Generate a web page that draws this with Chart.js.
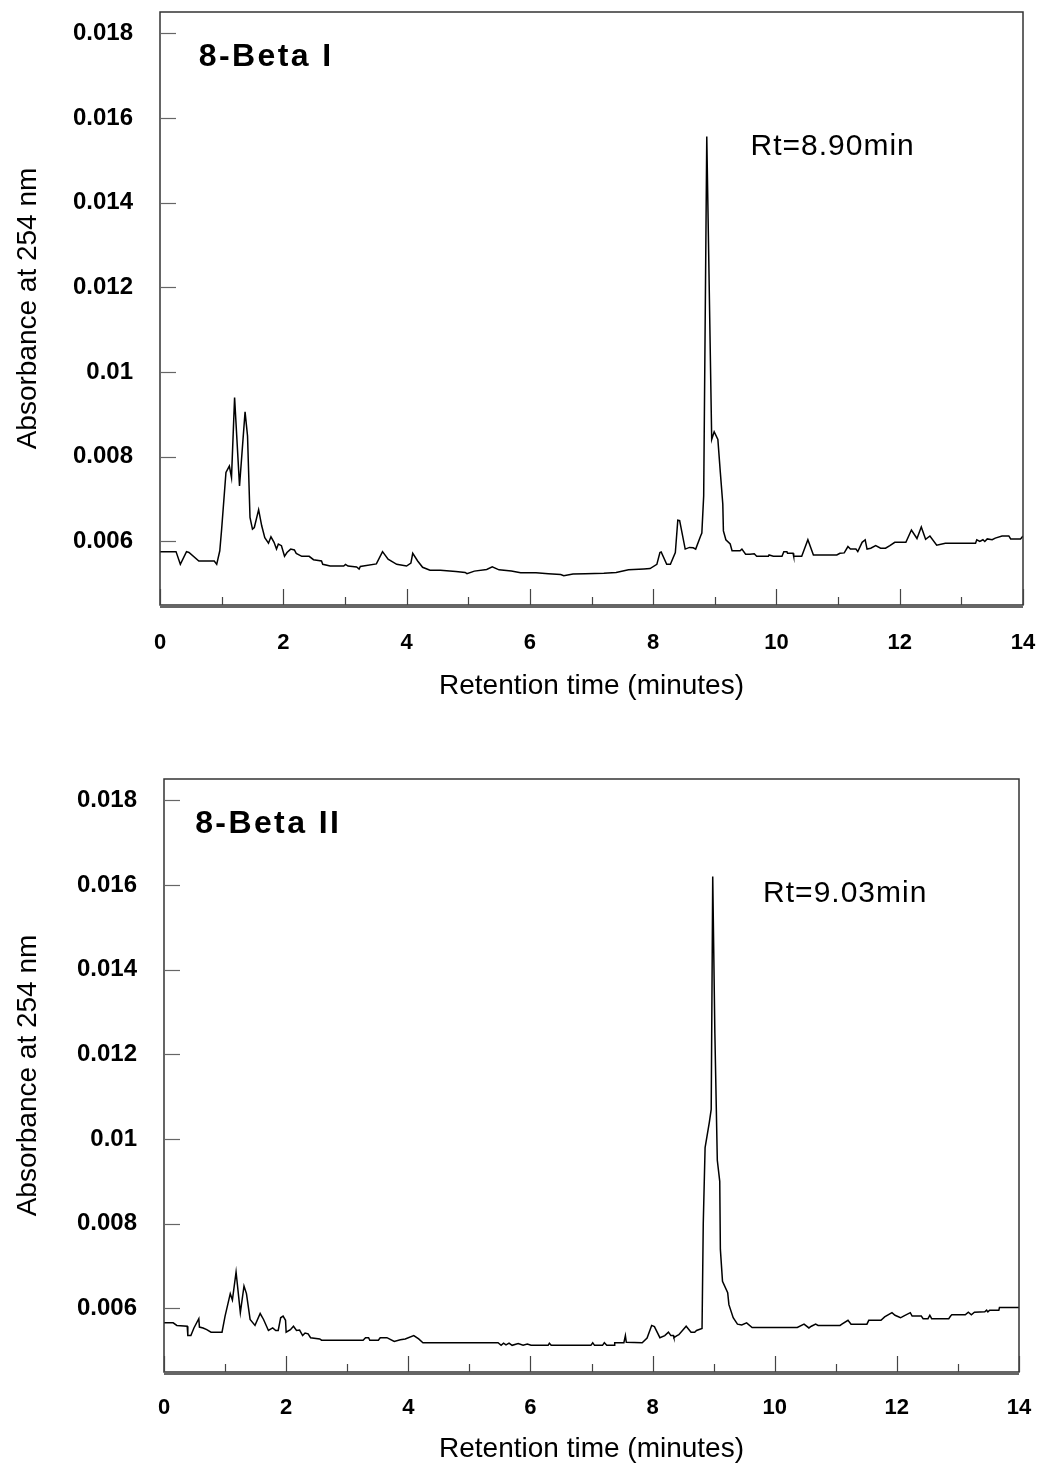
<!DOCTYPE html>
<html>
<head>
<meta charset="utf-8">
<script src="https://cdn.jsdelivr.net/npm/chart.js@4/dist/chart.umd.min.js"></script>
<style>
  body { margin: 0; background: #fff; }
  #wrap { position: relative; width: 1046px; height: 1466px; }
  canvas { position: absolute; left: 0; }
</style>
</head>
<body>
<div id="wrap">
  <canvas id="chart1" width="1046" height="732" style="top:0"></canvas>
  <canvas id="chart2" width="1046" height="734" style="top:732px"></canvas>
</div>
<script>
// retention time (min) and absorbance at 254 nm
var beta1Time = [0, 0.26, 0.33, 0.43, 0.47, 0.63, 0.88, 0.92, 0.97, 1.0, 1.07, 1.125, 1.16, 1.21, 1.29, 1.38, 1.42, 1.46, 1.5, 1.53,
    1.6, 1.65, 1.7, 1.76, 1.8, 1.85, 1.89, 1.92, 1.97, 2.02, 2.06, 2.12, 2.18, 2.21, 2.3, 2.42, 2.49, 2.62, 2.64, 2.76,
    2.98, 3.01, 3.05, 3.19, 3.23, 3.25, 3.51, 3.61, 3.7, 3.84, 4.0, 4.07, 4.1, 4.18, 4.26, 4.38, 4.55, 4.8, 4.95, 4.98,
    5.1, 5.3, 5.39, 5.5, 5.7, 5.85, 6.1, 6.3, 6.5, 6.55, 6.7, 6.9, 7.2, 7.4, 7.6, 7.85, 7.95, 8.06, 8.11, 8.13,
    8.22, 8.28, 8.36, 8.4, 8.43, 8.52, 8.59, 8.65, 8.69, 8.77, 8.79, 8.82, 8.87, 8.95, 8.99, 9.05, 9.09, 9.13, 9.14, 9.18,
    9.25, 9.28, 9.41, 9.44, 9.5, 9.57, 9.64, 9.68, 9.87, 9.88, 9.95, 10.09, 10.12, 10.17, 10.18, 10.27, 10.28, 10.41, 10.43, 10.51,
    10.6, 10.98, 11.03, 11.1, 11.16, 11.2, 11.29, 11.32, 11.39, 11.44, 11.47, 11.53, 11.61, 11.69, 11.77, 11.84, 11.92, 12.1, 12.19, 12.28,
    12.35, 12.42, 12.49, 12.6, 12.74, 13.23, 13.25, 13.3, 13.35, 13.38, 13.42, 13.5, 13.55, 13.66, 13.77, 13.8, 13.96, 14.0]
var beta1Abs = [0.00576, 0.00576, 0.00546, 0.00576, 0.00574, 0.00554, 0.00554, 0.00546, 0.00578, 0.00629, 0.00763, 0.00778, 0.00751, 0.0094, 0.00731, 0.00906, 0.00849, 0.00657, 0.00629, 0.00633,
    0.00675, 0.00637, 0.00609, 0.00596, 0.00611, 0.00598, 0.00582, 0.00594, 0.0059, 0.00565, 0.00574, 0.00582, 0.0058, 0.00572, 0.00565, 0.00565, 0.00557, 0.00554, 0.00546, 0.00542,
    0.00542, 0.00546, 0.00542, 0.0054, 0.00535, 0.00541, 0.00547, 0.00576, 0.00558, 0.00546, 0.00542, 0.00549, 0.00572, 0.00554, 0.00539, 0.00532, 0.00532, 0.00529, 0.00527, 0.00524,
    0.0053, 0.00534, 0.0054, 0.00533, 0.0053, 0.00526, 0.00526, 0.00524, 0.00522, 0.00519, 0.00523, 0.00524, 0.00525, 0.00527, 0.00533, 0.00535, 0.00536, 0.00546, 0.00574, 0.00575,
    0.00546, 0.00546, 0.00574, 0.0065, 0.00649, 0.00582, 0.00586, 0.00585, 0.00582, 0.00613, 0.0062, 0.00708, 0.01556, 0.00841, 0.00859, 0.00841, 0.00763, 0.00688, 0.00625, 0.00604,
    0.00594, 0.00578, 0.00578, 0.00582, 0.0057, 0.0057, 0.00571, 0.00565, 0.00565, 0.00568, 0.00565, 0.00565, 0.00576, 0.00576, 0.00572, 0.00572, 0.00565, 0.00565, 0.00573, 0.00604,
    0.00568, 0.00568, 0.00572, 0.00573, 0.00588, 0.00582, 0.00582, 0.00576, 0.00598, 0.00604, 0.00582, 0.00584, 0.0059, 0.00584, 0.00584, 0.0059, 0.00598, 0.00598, 0.00627, 0.00607,
    0.00634, 0.00605, 0.00613, 0.00591, 0.00596, 0.00596, 0.00604, 0.006, 0.00604, 0.006, 0.00606, 0.00604, 0.00608, 0.00613, 0.00613, 0.00606, 0.00606, 0.00613]

var beta2Time = [0, 0.15, 0.21, 0.38, 0.39, 0.44, 0.49, 0.57, 0.58, 0.64, 0.7, 0.77, 0.95, 1.0, 1.085, 1.12, 1.18, 1.25, 1.31, 1.35,
    1.41, 1.49, 1.575, 1.63, 1.71, 1.78, 1.83, 1.87, 1.91, 1.95, 1.99, 2.0, 2.07, 2.12, 2.17, 2.22, 2.27, 2.31, 2.36, 2.4,
    2.55, 2.58, 3.26, 3.3, 3.35, 3.37, 3.51, 3.54, 3.65, 3.77, 3.87, 3.95, 4.09, 4.17, 4.24, 5.47, 5.52, 5.56, 5.6, 5.65,
    5.7, 5.8, 5.88, 5.95, 6.01, 6.29, 6.31, 6.34, 6.99, 7.02, 7.05, 7.18, 7.21, 7.25, 7.37, 7.38, 7.53, 7.555, 7.57, 7.83,
    7.91, 7.985, 8.03, 8.12, 8.2, 8.26, 8.3, 8.34, 8.35, 8.4, 8.43, 8.55, 8.63, 8.69, 8.72, 8.81, 8.83, 8.86, 8.93, 8.96,
    8.985, 9.02, 9.06, 9.1, 9.11, 9.145, 9.23, 9.25, 9.32, 9.39, 9.46, 9.54, 9.63, 10.37, 10.48, 10.56, 10.6, 10.67, 10.71, 11.07,
    11.1, 11.2, 11.25, 11.51, 11.54, 11.74, 11.8, 11.92, 11.97, 12.06, 12.11, 12.22, 12.25, 12.4, 12.43, 12.51, 12.54, 12.57, 12.85, 12.88,
    12.9, 13.12, 13.17, 13.22, 13.27, 13.44, 13.47, 13.49, 13.52, 13.67, 13.68, 14.0]
var beta2Abs = [0.00566, 0.00566, 0.0056, 0.00558, 0.00536, 0.00536, 0.00554, 0.00576, 0.00556, 0.00554, 0.0055, 0.00544, 0.00544, 0.00582, 0.00635, 0.0062, 0.00686, 0.0059, 0.00653, 0.00635,
    0.00574, 0.0056, 0.00588, 0.00574, 0.00548, 0.00554, 0.00548, 0.00548, 0.00578, 0.00582, 0.00572, 0.00544, 0.0055, 0.00558, 0.00548, 0.00549, 0.00536, 0.00542, 0.0054, 0.00531,
    0.00528, 0.00525, 0.00525, 0.00531, 0.00531, 0.00525, 0.00525, 0.00531, 0.00531, 0.00522, 0.00526, 0.00528, 0.00536, 0.00528, 0.00519, 0.00519, 0.00513, 0.00518, 0.00514, 0.00518,
    0.00513, 0.00517, 0.00513, 0.00516, 0.00513, 0.00513, 0.00518, 0.00513, 0.00513, 0.00519, 0.00513, 0.00513, 0.00519, 0.00513, 0.00513, 0.00519, 0.00519, 0.00536, 0.0052, 0.00519,
    0.0053, 0.0056, 0.00557, 0.00531, 0.00536, 0.00544, 0.00536, 0.00536, 0.00531, 0.00536, 0.00538, 0.00558, 0.00544, 0.00544, 0.00548, 0.00553, 0.008, 0.0098, 0.0104, 0.0107,
    0.0162, 0.0125, 0.0095, 0.009, 0.0074, 0.00664, 0.00637, 0.00609, 0.00578, 0.00563, 0.00561, 0.00566, 0.00555, 0.00555, 0.00563, 0.00554, 0.00558, 0.00563, 0.0056, 0.0056,
    0.00563, 0.00572, 0.00563, 0.00563, 0.00572, 0.00572, 0.0058, 0.0059, 0.00584, 0.00578, 0.00582, 0.0059, 0.00582, 0.00582, 0.00576, 0.00576, 0.00584, 0.00576, 0.00576, 0.00582,
    0.00585, 0.00585, 0.00591, 0.00585, 0.00591, 0.00592, 0.00596, 0.00592, 0.00596, 0.00596, 0.00602, 0.00602]

var xTickValues = [0, 1, 2, 3, 4, 5, 6, 7, 8, 9, 10, 11, 12, 13, 14]
var yTickValues = [0.006, 0.008, 0.01, 0.012, 0.014, 0.016, 0.018]

Chart.defaults.font.family = "'Liberation Sans', Arial, Helvetica, sans-serif"
Chart.defaults.color = '#000'

// box frame, inward tick marks and in-plot labels
var framePlugin = {
    id: 'frame',
    afterDraw: function(chart, args, opts) {
        var ctx = chart.ctx
        var a = chart.chartArea
        var x = chart.scales.x
        var y = chart.scales.y
        ctx.save()
        ctx.lineWidth = 1.5
        ctx.strokeStyle = '#333'
        ctx.strokeRect(a.left, a.top, a.right - a.left, a.bottom - a.top)
        ctx.beginPath()
        ctx.moveTo(a.left, a.bottom + 2)
        ctx.lineTo(a.right, a.bottom + 2)
        ctx.stroke()

        ctx.lineWidth = 1.2
        ctx.strokeStyle = '#444'
        xTickValues.forEach(function(v) {
            var px = Math.round(x.getPixelForValue(v)) + 0.5
            var len = v % 2 === 0 ? 16 : 8
            ctx.beginPath()
            ctx.moveTo(px, a.bottom)
            ctx.lineTo(px, a.bottom - len)
            ctx.stroke()
        })
        ctx.strokeStyle = '#666'
        yTickValues.forEach(function(v) {
            var py = Math.round(y.getPixelForValue(v)) + 0.5
            ctx.beginPath()
            ctx.moveTo(a.left, py)
            ctx.lineTo(a.left + 16, py)
            ctx.stroke()
        })

        ctx.fillStyle = '#000'
        ctx.textBaseline = 'middle'
        ctx.textAlign = 'left'
        ctx.letterSpacing = '2.4px'
        ctx.font = "bold 32px 'Liberation Sans', Arial, sans-serif"
        ctx.fillText(opts.name, x.getPixelForValue(opts.nameAt[0]), y.getPixelForValue(opts.nameAt[1]))
        ctx.letterSpacing = '1px'
        ctx.font = "30px 'Liberation Sans', Arial, sans-serif"
        ctx.fillText(opts.rt, x.getPixelForValue(opts.rtAt[0]), y.getPixelForValue(opts.rtAt[1]))
        ctx.restore()
    }
}

function makeChart(id, times, values, box, note) {
    var points = times.map(function(t, i) { return { x: t, y: values[i] } })
    return new Chart(document.getElementById(id), {
        type: 'line',
        data: {
            datasets: [{
                data: points,
                borderColor: '#000',
                borderWidth: 1.5,
                pointRadius: 0,
                tension: 0,
                fill: false
            }]
        },
        options: {
            responsive: false,
            animation: false,
            layout: { padding: box.padding },
            plugins: {
                legend: { display: false },
                tooltip: { enabled: false },
                frame: note
            },
            scales: {
                x: {
                    type: 'linear',
                    min: 0,
                    max: 14,
                    grid: { display: false },
                    border: { display: false },
                    afterBuildTicks: function(s) { s.ticks = xTickValues.map(function(v) { return { value: v } }) },
                    afterFit: function(s) { s.height = box.xHeight; s.paddingLeft = 0; s.paddingRight = 0 },
                    ticks: {
                        autoSkip: false,
                        maxRotation: 0,
                        padding: box.xPad,
                        font: { size: 22, weight: 'bold' },
                        callback: function(v) { return v % 2 === 0 ? String(v) : '' }
                    },
                    title: {
                        display: true,
                        text: 'Retention time (minutes)',
                        font: { size: 28 },
                        padding: { top: 0, bottom: 0 }
                    }
                },
                y: {
                    type: 'linear',
                    min: 0.0045,
                    max: 0.0185,
                    grid: { display: false },
                    border: { display: false },
                    afterBuildTicks: function(s) { s.ticks = yTickValues.map(function(v) { return { value: v } }) },
                    afterFit: function(s) { s.width = box.yWidth; s.paddingTop = 0; s.paddingBottom = 0 },
                    ticks: {
                        padding: 19,
                        font: { size: 24, weight: 'bold' },
                        callback: function(v) { return String(+v.toFixed(3)) }
                    },
                    title: {
                        display: true,
                        text: 'Absorbance at 254 nm',
                        font: { size: 28 },
                        padding: { top: 0, bottom: 0 }
                    }
                }
            }
        },
        plugins: [framePlugin]
    })
}

makeChart('chart1', beta1Time, beta1Abs,
    { padding: { left: 11, right: 23, top: 12, bottom: 29 }, xHeight: 98, xPad: 17, yWidth: 149 },
    { name: '8-Beta I', nameAt: [0.63, 0.01743], rt: 'Rt=8.90min', rtAt: [9.58, 0.01531] })

makeChart('chart2', beta2Time, beta2Abs,
    { padding: { left: 11, right: 27, top: 47, bottom: 0 }, xHeight: 94, xPad: 15, yWidth: 153 },
    { name: '8-Beta II', nameAt: [0.51, 0.01743], rt: 'Rt=9.03min', rtAt: [9.81, 0.01579] })
</script>
</body>
</html>
